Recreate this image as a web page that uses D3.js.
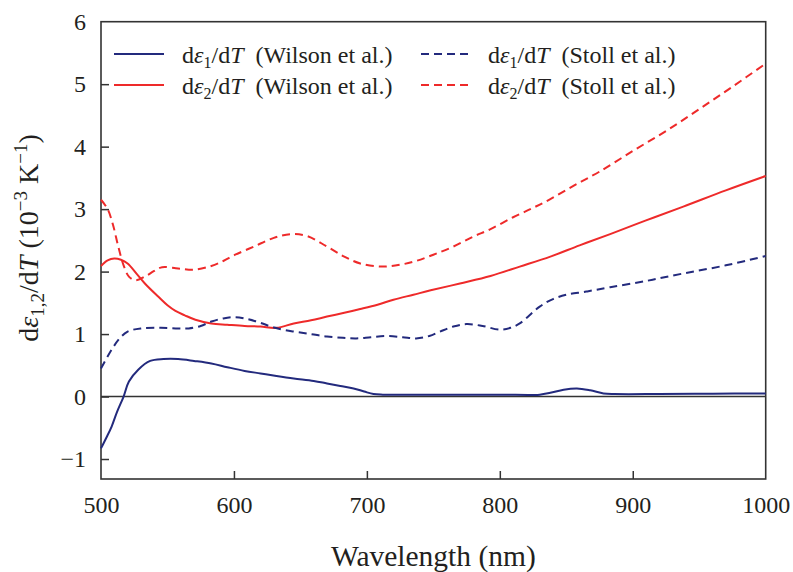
<!DOCTYPE html>
<html>
<head>
<meta charset="utf-8">
<script src="https://cdn.jsdelivr.net/npm/d3@7"></script>
<style>
  html, body { margin: 0; padding: 0; background: #fff; }
  svg { display: block; }
</style>
</head>
<body>
<svg id="chart" width="793" height="572"></svg>
<script>
// ---- data (wavelength nm, value 1e-3 K^-1) ----
const wilsonE1 = [[500,-0.83],[504,-0.66],[508,-0.48],[512,-0.25],[517,0.0],[521,0.24],[528,0.43],[537,0.57],[547,0.60],[558,0.60],[570,0.57],[583,0.53],[595,0.47],[608,0.41],[620,0.37],[632,0.33],[645,0.29],[660,0.25],[670,0.21],[680,0.17],[690,0.13],[698,0.08],[705,0.04],[712,0.03],[750,0.03],[800,0.03],[830,0.03],[838,0.06],[848,0.11],[858,0.13],[868,0.10],[878,0.05],[886,0.04],[920,0.04],[960,0.045],[1000,0.05]];
const stollE1 = [[500,0.45],[508,0.75],[514,0.93],[520,1.04],[530,1.09],[545,1.10],[558,1.09],[566,1.09],[575,1.13],[583,1.20],[592,1.25],[601,1.27],[610,1.24],[620,1.18],[631,1.10],[645,1.04],[658,1.00],[670,0.96],[682,0.94],[692,0.93],[703,0.95],[715,0.97],[727,0.95],[737,0.93],[747,0.97],[755,1.04],[765,1.12],[775,1.16],[787,1.13],[800,1.07],[808,1.10],[815,1.17],[830,1.44],[840,1.56],[850,1.63],[865,1.68],[883,1.75],[910,1.85],[938,1.97],[970,2.10],[1000,2.25]];
const wilsonE2 = [[500,2.09],[505,2.18],[510,2.21],[515,2.19],[520,2.13],[527,1.96],[533,1.81],[543,1.60],[550,1.46],[556,1.37],[563,1.30],[571,1.23],[583,1.17],[595,1.15],[608,1.13],[620,1.12],[632,1.10],[645,1.17],[658,1.22],[670,1.28],[683,1.34],[695,1.40],[708,1.47],[720,1.55],[735,1.63],[748,1.70],[770,1.81],[793,1.93],[815,2.08],[838,2.24],[860,2.42],[883,2.60],[910,2.82],[938,3.04],[970,3.30],[1000,3.53]];
const stollE2 = [[500,3.15],[505,3.00],[509,2.75],[513,2.40],[517,2.10],[521,1.92],[526,1.86],[533,1.92],[540,2.01],[546,2.07],[558,2.05],[570,2.03],[583,2.09],[592,2.17],[601,2.27],[615,2.40],[630,2.54],[643,2.60],[655,2.57],[670,2.40],[683,2.24],[695,2.13],[711,2.08],[725,2.11],[737,2.17],[750,2.27],[765,2.40],[780,2.56],[793,2.68],[810,2.87],[825,3.02],[838,3.16],[856,3.38],[875,3.60],[900,3.93],[925,4.25],[950,4.60],[975,4.96],[1000,5.33]];

const xTicks = [500, 600, 700, 800, 900, 1000];
const yTicks = [-1, 0, 1, 2, 3, 4, 5, 6];
const seriesNames = ["Wilson et al.", "Wilson et al.", "Stoll et al.", "Stoll et al."];
const seriesSub = ["1", "2", "1", "2"];

const NAVY = "#232a7d", RED = "#ee2a2a", AX = "#333333", TXT = "#231f20";
const FONT = '"Liberation Serif", "Times New Roman", monospace';

const W = 793, H = 572;
const m = { left: 101, right: 27.3, top: 21.7, bottom: 93 };
const iw = W - m.left - m.right, ih = H - m.top - m.bottom;

const svg = d3.select("#chart").attr("font-family", FONT);
const g = svg.append("g").attr("transform", `translate(${m.left},${m.top})`);

const x = d3.scaleLinear().domain([500, 1000]).range([0, iw]);
const y = d3.scaleLinear().domain([-1.32, 6]).range([ih, 0]);

// axes
const xAxis = d3.axisBottom(x).tickValues(xTicks).tickSizeInner(-8).tickSizeOuter(0).tickPadding(17).tickFormat(d3.format("d"));
const yAxis = d3.axisLeft(y).tickValues(yTicks).tickSizeInner(-8).tickSizeOuter(0).tickPadding(15);

const gx = g.append("g").attr("transform", `translate(0,${ih})`).call(xAxis);
const gy = g.append("g").call(yAxis);
[gx, gy].forEach(a => {
  a.attr("font-family", FONT).attr("font-size", 24);
  a.select(".domain").remove();
  a.selectAll(".tick line").attr("stroke", AX).attr("stroke-width", 1.5);
  a.selectAll(".tick text").attr("font-family", FONT).attr("font-size", 24).attr("fill", TXT);
});
gx.selectAll(".tick").filter(d => d === 500 || d === 1000).select("line").remove();
gy.selectAll(".tick").filter(d => d === 6).select("line").remove();

// zero line
g.append("line").attr("x1", 0).attr("x2", iw).attr("y1", y(0)).attr("y2", y(0))
  .attr("stroke", AX).attr("stroke-width", 1.6);

// frame
g.append("rect").attr("x", 0).attr("y", 0).attr("width", iw).attr("height", ih)
  .attr("fill", "none").attr("stroke", AX).attr("stroke-width", 1.6);

// lines
const line = d3.line().x(d => x(d[0])).y(d => y(d[1])).curve(d3.curveCatmullRom.alpha(0.5));
const series = [
  { data: wilsonE1, color: NAVY, dash: null },
  { data: wilsonE2, color: RED, dash: null },
  { data: stollE1, color: NAVY, dash: "8,5" },
  { data: stollE2, color: RED, dash: "8,5" }
];
series.forEach(s => {
  g.append("path").datum(s.data).attr("d", line)
    .attr("fill", "none").attr("stroke", s.color).attr("stroke-width", 2)
    .attr("stroke-dasharray", s.dash);
});

// legend
const legPos = [
  { lx: 114, tx: 182, ly: 54 },
  { lx: 114, tx: 182, ly: 85 },
  { lx: 421, tx: 488, ly: 54 },
  { lx: 421, tx: 488, ly: 85 }
];
series.forEach((s, i) => {
  const p = legPos[i];
  svg.append("line").attr("x1", p.lx).attr("x2", p.lx + 50).attr("y1", p.ly).attr("y2", p.ly)
    .attr("stroke", s.color).attr("stroke-width", 2).attr("stroke-dasharray", s.dash);
  const t = svg.append("text").attr("x", p.tx).attr("y", p.ly + 9)
    .attr("font-family", FONT).attr("font-size", 24).attr("fill", TXT);
  t.append("tspan").text("d");
  t.append("tspan").attr("font-style", "italic").text("ε");
  t.append("tspan").attr("font-size", 16).attr("dy", 5).text(seriesSub[i]);
  t.append("tspan").attr("dy", -5).text("/d");
  t.append("tspan").attr("font-style", "italic").text("T");
  t.append("tspan").text("\u00a0\u00a0(" + seriesNames[i] + ")");
});

// axis titles
svg.append("text").attr("x", m.left + iw / 2).attr("y", 566).attr("text-anchor", "middle")
  .attr("font-family", FONT).attr("font-size", 29.5).attr("fill", TXT).text("Wavelength (nm)");

const yl = svg.append("text").attr("transform", "translate(38,238) rotate(-90)")
  .attr("text-anchor", "middle").attr("font-family", FONT).attr("font-size", 28).attr("fill", TXT);
yl.append("tspan").text("d");
yl.append("tspan").attr("font-style", "italic").text("ε");
yl.append("tspan").attr("font-size", 19).attr("dy", 6).text("1,2");
yl.append("tspan").attr("dy", -6).text("/d");
yl.append("tspan").attr("font-style", "italic").text("T");
yl.append("tspan").text(" (10");
yl.append("tspan").attr("font-size", 19).attr("dy", -11).text("−3");
yl.append("tspan").attr("dy", 11).text(" K");
yl.append("tspan").attr("font-size", 19).attr("dy", -11).text("−1");
yl.append("tspan").attr("dy", 11).text(")");
</script>
</body>
</html>
